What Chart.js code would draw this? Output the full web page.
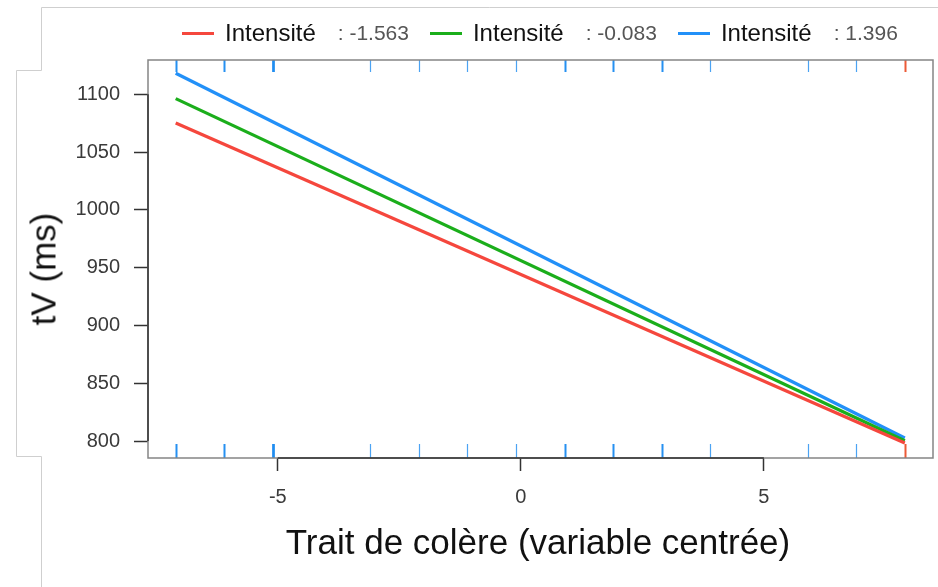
<!DOCTYPE html>
<html>
<head>
<meta charset="utf-8">
<script src="https://cdn.jsdelivr.net/npm/chart.js@4/dist/chart.umd.min.js"></script>
<style>
  body { margin: 0; background: #fff; font-family: "Liberation Sans", Arial, sans-serif; }
  #wrap { position: relative; width: 938px; height: 587px; }
  #legend { position: absolute; left: 182px; top: 19px; display: flex; align-items: center; white-space: pre; }
  .item { display: flex; align-items: center; margin-right: 21px; }
  .swatch { width: 32px; height: 3px; margin-right: 11px; }
  .lab { font-size: 24px; color: #111; }
  .val { font-size: 21px; color: #555; margin-left: 22px; }
  #ytitle { position: absolute; left: 43px; top: 269px; font-size: 35px; line-height: 1; white-space: nowrap;
            transform: translate(-50%, -50%) rotate(-90deg); color: #111; }
  #xtitle { position: absolute; left: 538px; top: 524px; font-size: 35px; line-height: 1; white-space: nowrap;
            transform: translateX(-50%); color: #111; }
</style>
</head>
<body>
<div id="wrap">
  <canvas id="chart" width="938" height="587"></canvas>
  <div id="legend"></div>
  <div id="ytitle">tV (ms)</div>
  <div id="xtitle">Trait de colère (variable centrée)</div>
</div>
<script>
// données
var seriesNames = ['Intensité', 'Intensité', 'Intensité'];
var seriesLevels = [': -1.563', ': -0.083', ': 1.396'];
var seriesColors = ['#f5473d', '#1bae1b', '#2290f8'];
var xEnds = [-7.1, 7.9];
var redValues = [1075.2, 798.3];
var greenValues = [1096.3, 800.2];
var blueValues = [1118.2, 802.6];
var xTicks = [-5, 0, 5];
var yTicks = [800, 850, 900, 950, 1000, 1050, 1100];
// valeurs observées (rug) et nombre de superpositions
var rugX = [-7.1, -6.1, -5.1, -3.1, -2.1, -1.1, -0.1, 0.9, 1.9, 2.9, 3.9, 5.9, 6.9, 7.9];
var rugCount = [2, 2, 3, 1, 1, 1, 1, 2, 2, 2, 1, 1, 1, 1];

var allSeries = [redValues, greenValues, blueValues];

function toPoints(values) {
    return values.map(function(v, i) { return { x: xEnds[i], y: v }; });
}

// légende en HTML
var legend = document.getElementById('legend');
seriesNames.forEach(function(name, i) {
    var item = document.createElement('div');
    item.className = 'item';
    item.innerHTML = '<div class="swatch" style="background:' + seriesColors[i] + '"></div>' +
        '<span class="lab">' + name + '</span><span class="val">' + seriesLevels[i] + '</span>';
    legend.appendChild(item);
});

var framePlugin = {
    id: 'frame',
    beforeDraw: function(chart) {
        var ctx = chart.ctx;
        ctx.save();
        ctx.strokeStyle = '#cfcfcf';
        ctx.lineWidth = 1;
        ctx.beginPath();
        ctx.moveTo(938, 7.5); ctx.lineTo(41.5, 7.5); ctx.lineTo(41.5, 70.5);
        ctx.lineTo(16.5, 70.5); ctx.lineTo(16.5, 456.5); ctx.lineTo(41.5, 456.5);
        ctx.lineTo(41.5, 587);
        ctx.stroke();
        ctx.restore();
    },
    afterDatasetsDraw: function(chart) {
        var ctx = chart.ctx, a = chart.chartArea;
        var xs = chart.scales.x, ys = chart.scales.y;
        ctx.save();
        // rug en haut et en bas
        rugX.forEach(function(v, i) {
            var px = Math.round(xs.getPixelForValue(v)) + 0.5;
            var last = i === rugX.length - 1;
            ctx.strokeStyle = last ? 'rgba(236, 90, 55, 1)' : 'rgba(30, 140, 240, 0.8)';
            ctx.lineWidth = last ? 2 : 1.2 + 0.5 * (rugCount[i] - 1);
            for (var k = 0; k < rugCount[i]; k++) {
                ctx.beginPath();
                ctx.moveTo(px, a.top); ctx.lineTo(px, a.top + 12);
                ctx.moveTo(px, a.bottom); ctx.lineTo(px, a.bottom - 14);
                ctx.stroke();
            }
        });
        // cadre
        ctx.strokeStyle = '#858585';
        ctx.lineWidth = 1.5;
        ctx.strokeRect(a.left, a.top, a.right - a.left, a.bottom - a.top);
        // lignes d'axe sur l'étendue des graduations
        ctx.strokeStyle = '#333';
        ctx.lineWidth = 1.5;
        ctx.beginPath();
        ctx.moveTo(a.left, ys.getPixelForValue(yTicks[0]));
        ctx.lineTo(a.left, ys.getPixelForValue(yTicks[yTicks.length - 1]));
        ctx.moveTo(xs.getPixelForValue(xTicks[0]), a.bottom);
        ctx.lineTo(xs.getPixelForValue(xTicks[xTicks.length - 1]), a.bottom);
        ctx.stroke();
        ctx.restore();
    }
};

var chart = new Chart(document.getElementById('chart'), {
    type: 'line',
    data: {
        datasets: allSeries.map(function(vals, i) {
            return {
                label: seriesNames[i] + ' ' + seriesLevels[i],
                data: toPoints(vals),
                borderColor: seriesColors[i],
                backgroundColor: seriesColors[i],
                borderWidth: 3.2,
                pointRadius: 0,
                tension: 0
            };
        })
    },
    options: {
        responsive: false,
        animation: false,
        layout: { padding: { left: 0, right: 5, top: 60, bottom: 0 } },
        plugins: { legend: { display: false }, tooltip: { enabled: false } },
        scales: {
            x: {
                type: 'linear',
                min: -7.67,
                max: 8.48,
                afterBuildTicks: function(s) { s.ticks = xTicks.map(function(v) { return { value: v }; }); },
                afterFit: function(s) { s.height = 129; },
                grid: { drawOnChartArea: false, drawTicks: true, tickLength: 13, tickColor: '#333', tickWidth: 1.5 },
                border: { display: false },
                ticks: { padding: 14, color: '#3a3a3a', font: { family: '"Liberation Sans", Arial, sans-serif', size: 20 }, maxRotation: 0,
                         callback: function(v) { return String(v); } }
            },
            y: {
                type: 'linear',
                min: 785.3,
                max: 1129.7,
                afterBuildTicks: function(s) { s.ticks = yTicks.map(function(v) { return { value: v }; }); },
                afterFit: function(s) { s.width = 148; },
                grid: { drawOnChartArea: false, drawTicks: true, tickLength: 14, tickColor: '#333', tickWidth: 1.5 },
                border: { display: false },
                ticks: { padding: 14, color: '#3a3a3a', font: { family: '"Liberation Sans", Arial, sans-serif', size: 20 },
                         callback: function(v) { return String(v); } }
            }
        }
    },
    plugins: [framePlugin]
});
</script>
</body>
</html>
